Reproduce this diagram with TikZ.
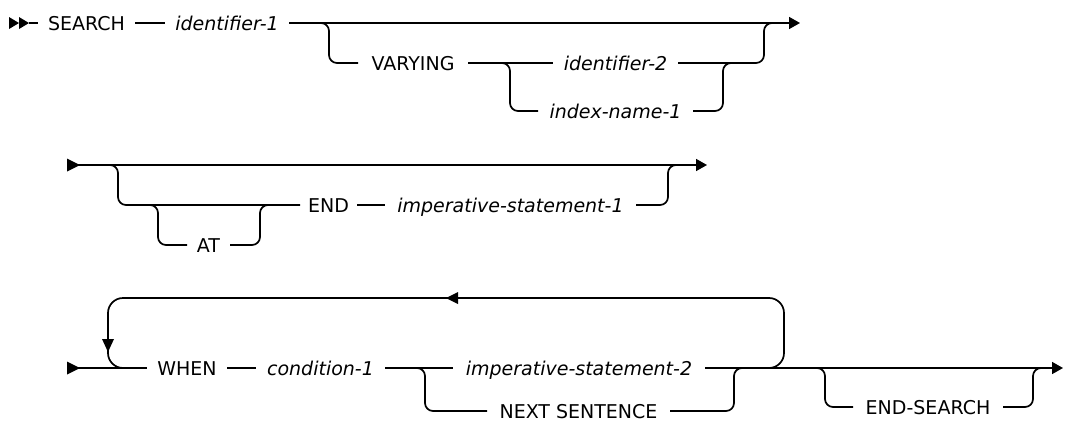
\documentclass[tikz,border=0pt]{standalone}
\usepackage{fontspec}
\setmainfont{DejaVu Sans}
\usetikzlibrary{arrows.meta}
\begin{document}
\begin{tikzpicture}[x=1pt,y=-1pt,
  rail/.style={line width=1.7pt, rounded corners=8pt},
  looprail/.style={line width=1.7pt, rounded corners=15pt},
  lbl/.style={inner sep=0pt, outer sep=0pt, font=\fontsize{19}{22}\selectfont, text height=14pt, text depth=0pt, align=center},
  kw/.style={lbl},
  var/.style={lbl, font=\fontsize{19}{22}\selectfont\itshape},
  tip/.style={-{Triangle[length=11pt,width=12pt]}},
  marker/.style={fill=black}
]
\useasboundingbox (0,0) rectangle (1065,423);

% ---------- Row 1 ----------
\node[kw,  minimum width=97pt]  (search) at (86.5,23)  {SEARCH};
\node[var, minimum width=124pt] (id1)    at (227,23)   {identifier-1};
\node[kw,  minimum width=110pt] (vary)   at (413,63)   {VARYING};
\node[var, minimum width=125pt] (id2)    at (615.5,63) {identifier-2};
\node[var, minimum width=155pt] (idx)    at (615.5,111){index-name-1};
\coordinate (start1) at (29,23);
\coordinate (end1)   at (800,23);

\fill[marker] (9,17) -- (19,23) -- (9,29) -- cycle;
\fill[marker] (19,17) -- (29,23) -- (19,29) -- cycle;
\draw[rail] (start1) -- (search.west);
\draw[rail] (search) -- (id1);
\draw[rail,tip] (id1.east) -- (end1);
\draw[rail] (310,23) -- (329,23) -- (329,63) -- (vary.west);
\draw[rail] (vary) -- (id2);
\draw[rail] (id2.east) -- (764,63) -- (764,23) -- (780,23);
\draw[rail] (495,63) -- (510,63) -- (510,111) -- (idx.west);
\draw[rail] (idx.east) -- (723,111) -- (723,63) -- (740,63);

% ---------- Row 2 ----------
\node[kw,  minimum width=43pt]  (at)   at (208.5,245) {AT};
\node[kw,  minimum width=57pt]  (endk) at (328.5,205) {END};
\node[var, minimum width=251pt] (imp1) at (510.5,205) {imperative-statement-1};
\coordinate (start2) at (78,165);
\coordinate (end2)   at (707,165);

\fill[marker] (67,158.5) -- (80,165) -- (67,171.5) -- cycle;
\draw[rail,tip] (start2) -- (end2);
\draw[rail] (105,165) -- (118,165) -- (118,205) -- (endk.west);
\draw[rail] (145,205) -- (158,205) -- (158,245) -- (at.west);
\draw[rail] (at.east) -- (260,245) -- (260,205) -- (275,205);
\draw[rail] (endk) -- (imp1);
\draw[rail] (imp1.east) -- (668,205) -- (668,165) -- (682,165);

% ---------- Row 3 ----------
\node[kw,  minimum width=80pt]  (when) at (187,368)   {WHEN};
\node[var, minimum width=129pt] (cond) at (320.5,368) {condition-1};
\node[var, minimum width=252pt] (imp2) at (579,368)   {imperative-statement-2};
\node[kw,  minimum width=183pt] (next) at (578.5,411) {NEXT SENTENCE};
\node[kw,  minimum width=150pt] (ends) at (928,407)   {END-SEARCH};
\coordinate (start3) at (78,368);
\coordinate (end3)   at (1063,368);

\fill[marker] (67,361.5) -- (80,368) -- (67,374.5) -- cycle;
\draw[rail] (start3) -- (when.west);
\draw[rail] (when) -- (cond);
\draw[rail] (cond) -- (imp2);
\draw[rail,tip] (imp2.east) -- (end3);
\draw[rail] (410,368) -- (425,368) -- (425,411) -- (next.west);
\draw[rail] (next.east) -- (734,411) -- (734,368) -- (746,368);
% repeat loop
\draw[looprail] (755,368) -- (784,368) -- (784,298) -- (108,298) -- (108,368) -- (140,368);
\fill[marker] (446,298) -- (458,292) -- (458,304) -- cycle;
\fill[marker] (102,339) -- (114,339) -- (108,352) -- cycle;
% END-SEARCH branch
\draw[rail] (812,368) -- (825,368) -- (825,407) -- (ends.west);
\draw[rail] (ends.east) -- (1033,407) -- (1033,368) -- (1046,368);
\end{tikzpicture}
\end{document}
